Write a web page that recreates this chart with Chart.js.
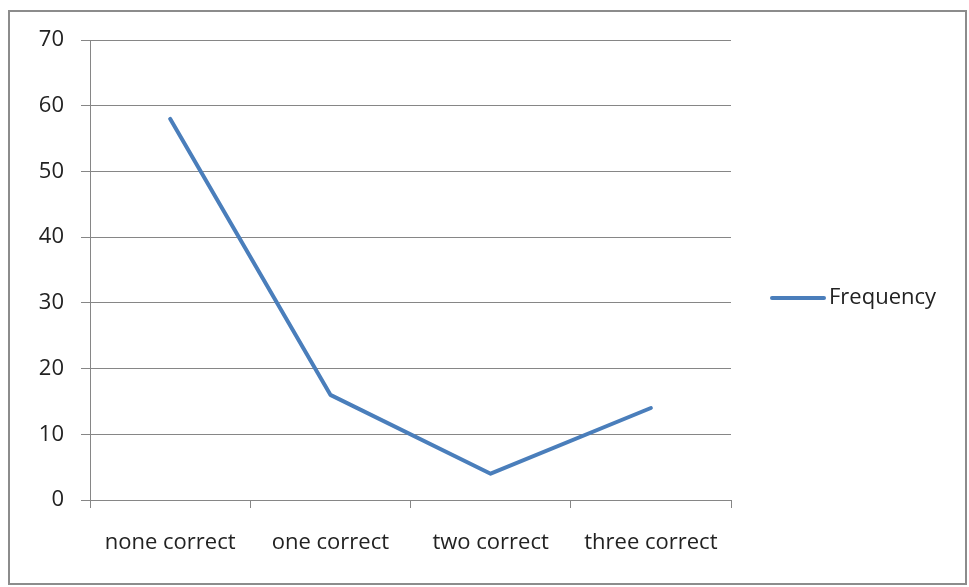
<!DOCTYPE html>
<html>
<head>
<meta charset="utf-8">
<script src="https://cdn.jsdelivr.net/npm/chart.js@4.4.1/dist/chart.umd.min.js"></script>
<style>
  html, body { margin: 0; padding: 0; background: #fff; }
  #wrap { position: relative; width: 969px; height: 587px; }
  canvas { display: block; }
</style>
</head>
<body>
<div id="wrap"><canvas id="c" width="969" height="587"></canvas></div>
<script>
// Number of correct answers and how often each occurred
const categories = ['none correct', 'one correct', 'two correct', 'three correct'];
const frequency = [58, 16, 4, 14];
const seriesName = 'Frequency';
const yTicks = [0, 10, 20, 30, 40, 50, 60, 70];

const FONT = { family: '"Open Sans", "Noto Sans", sans-serif', size: 22 };
const GRID = '#868686';
const LINE = '#4a7ebb';

// Outer frame around the whole chart
const framePlugin = {
  id: 'frame',
  afterDraw(chart) {
    const ctx = chart.ctx;
    ctx.save();
    ctx.strokeStyle = '#8c8c8c';
    ctx.lineWidth = 2;
    ctx.strokeRect(9, 11, 957, 573);
    ctx.restore();
  }
};

// Legend entry on the right: a line sample followed by the series name
const sideLegend = {
  id: 'sideLegend',
  afterDraw(chart) {
    const ctx = chart.ctx;
    const ds = chart.data.datasets[0];
    const y = 298;
    ctx.save();
    ctx.strokeStyle = ds.borderColor;
    ctx.lineWidth = 4;
    ctx.lineCap = 'round';
    ctx.beginPath();
    ctx.moveTo(772, y);
    ctx.lineTo(824, y);
    ctx.stroke();
    ctx.fillStyle = '#222';
    ctx.font = FONT.size + 'px ' + FONT.family;
    ctx.textBaseline = 'middle';
    ctx.textAlign = 'left';
    ctx.fillText(ds.label, 829, y);
    ctx.restore();
  }
};

new Chart(document.getElementById('c'), {
  type: 'line',
  data: {
    labels: categories,
    datasets: [{
      label: seriesName,
      data: frequency,
      borderColor: LINE,
      backgroundColor: LINE,
      borderWidth: 4,
      pointRadius: 0,
      pointHoverRadius: 0,
      tension: 0,
      borderCapStyle: 'round',
      borderJoinStyle: 'round'
    }]
  },
  options: {
    responsive: false,
    animation: false,
    events: [],
    layout: { padding: { left: 0, top: 40, right: 238, bottom: 0 } },
    plugins: { legend: { display: false }, tooltip: { enabled: false } },
    scales: {
      x: {
        offset: true,
        grid: {
          offset: true,
          drawOnChartArea: false,
          drawTicks: true,
          tickLength: 8,
          color: GRID,
          tickColor: GRID
        },
        border: { color: GRID, width: 1 },
        ticks: { color: '#222', font: FONT, padding: 22, maxRotation: 0 },
        afterFit(scale) { scale.height = 87; }
      },
      y: {
        min: 0,
        max: 70,
        afterBuildTicks(scale) { scale.ticks = yTicks.map(v => ({ value: v })); },
        grid: { color: GRID, tickLength: 9, tickColor: GRID },
        border: { color: GRID, width: 1 },
        ticks: { color: '#222', font: FONT, padding: 17 },
        afterFit(scale) { scale.width = 90; }
      }
    }
  },
  plugins: [framePlugin, sideLegend]
});
</script>
</body>
</html>
